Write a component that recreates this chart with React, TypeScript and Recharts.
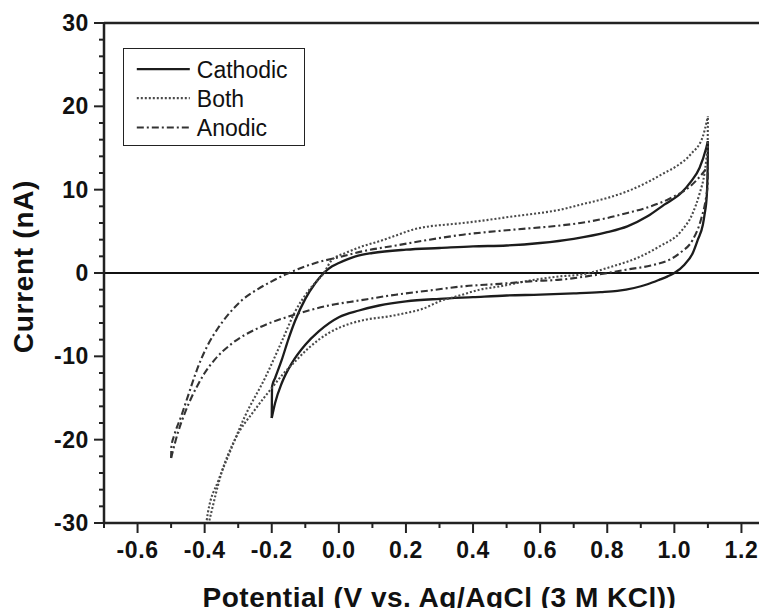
import React from 'react';
import { LineChart, Line, XAxis, YAxis, ReferenceLine, Legend } from 'recharts';

// ---- axis ticks ----
const xTicks = [-0.7, -0.6, -0.5, -0.4, -0.3, -0.2, -0.1, 0, 0.1, 0.2, 0.3, 0.4, 0.5, 0.6, 0.7, 0.8, 0.9, 1.0, 1.1, 1.2, 1.3];
const yTicks = [-30, -28, -26, -24, -22, -20, -18, -16, -14, -12, -10, -8, -6, -4, -2, 0, 2, 4, 6, 8, 10, 12, 14, 16, 18, 20, 22, 24, 26, 28, 30];
const seriesNames = ['Cathodic', 'Both', 'Anodic'];
const xTitle = 'Potential (V vs. Ag/AgCl (3 M KCl))';
const yTitle = 'Current (nA)';

// ---- Cathodic (solid) ----
const cathodicUpV = [-0.2, -0.199, -0.19, -0.17, -0.15, -0.13, -0.1, -0.07, -0.045, -0.02, 0.0, 0.05, 0.1, 0.2, 0.3, 0.4, 0.5, 0.6, 0.7, 0.8, 0.86, 0.92, 0.97, 1.02, 1.05, 1.075, 1.095, 1.1];
const cathodicUpI = [-17.4, -13.6, -12.6, -10.4, -7.9, -5.7, -3.1, -1.2, 0, 0.8, 1.2, 2.0, 2.4, 2.8, 3.0, 3.2, 3.3, 3.6, 4.1, 4.9, 5.6, 6.8, 8.2, 9.6, 11.0, 12.6, 15.0, 15.8];
const cathodicDownV = [-0.2, -0.19, -0.17, -0.14, -0.1, -0.06, 0.0, 0.06, 0.12, 0.2, 0.3, 0.4, 0.5, 0.6, 0.7, 0.78, 0.83, 0.88, 0.92, 0.956, 0.98, 1.0, 1.03, 1.055, 1.07, 1.085, 1.09, 1.097, 1.0995, 1.1];
const cathodicDownI = [-17.4, -15.6, -13.2, -10.8, -8.6, -7.0, -5.3, -4.5, -3.9, -3.4, -3.1, -2.9, -2.7, -2.6, -2.45, -2.3, -2.15, -1.8, -1.35, -0.8, -0.4, 0, 1.0, 2.4, 4.0, 5.8, 7.0, 9.5, 13.2, 15.8];

// ---- Both (dotted) ----
const bothUpV = [-0.405, -0.39, -0.36, -0.33, -0.28, -0.22, -0.17, -0.13, -0.09, -0.045, -0.02, 0.02, 0.07, 0.12, 0.17, 0.22, 0.27, 0.32, 0.37, 0.45, 0.52, 0.6, 0.66, 0.72, 0.8, 0.86, 0.92, 0.97, 1.006, 1.05, 1.085, 1.1];
const bothUpI = [-33, -28.7, -25, -22, -17.2, -12.6, -8.2, -4.6, -2.1, 0, 1.6, 2.4, 3.2, 3.8, 4.5, 5.2, 5.6, 5.8, 6.0, 6.4, 6.8, 7.2, 7.6, 8.2, 9.0, 9.8, 10.9, 12.0, 12.8, 14.3, 16.4, 18.8];
const bothDownV = [-0.405, -0.38, -0.35, -0.31, -0.25, -0.2, -0.17, -0.13, -0.09, -0.03, 0.04, 0.08, 0.15, 0.2, 0.25, 0.3, 0.36, 0.42, 0.48, 0.57, 0.66, 0.72, 0.816, 0.9, 0.956, 1.02, 1.055, 1.075, 1.09, 1.095, 1.099, 1.1];
const bothDownI = [-33, -28.7, -24, -20, -16.4, -13.8, -12.3, -10.6, -9.0, -7.2, -6.0, -5.6, -5.2, -4.8, -4.3, -3.4, -2.7, -2.0, -1.6, -0.9, -0.4, -0.2, 0.8, 2.0, 3.2, 5.0, 7.2, 9.5, 12.0, 13.5, 15.0, 18.8];

// ---- Anodic (dash-dot) ----
const anodicUpV = [-0.5, -0.499, -0.49, -0.47, -0.45, -0.43, -0.41, -0.39, -0.36, -0.33, -0.29, -0.24, -0.2, -0.16, -0.07, 0.0, 0.07, 0.17, 0.27, 0.37, 0.52, 0.66, 0.72, 0.8, 0.86, 0.93, 0.99, 1.05, 1.085, 1.1];
const anodicUpI = [-22.2, -20.8, -19.4, -17.2, -14.8, -12.4, -10.3, -8.6, -6.6, -5.0, -3.3, -1.9, -1.0, -0.2, 1.2, 1.9, 2.6, 3.3, 4.0, 4.6, 5.2, 5.7, 6.0, 6.6, 7.2, 8.0, 9.0, 10.5, 12.0, 12.8];
const anodicDownV = [-0.5, -0.48, -0.46, -0.44, -0.42, -0.4, -0.37, -0.32, -0.24, -0.14, -0.03, 0.06, 0.17, 0.27, 0.37, 0.48, 0.57, 0.66, 0.756, 0.856, 0.93, 0.986, 1.02, 1.055, 1.08, 1.095, 1.099, 1.1];
const anodicDownI = [-22.2, -19.2, -16.9, -15.0, -13.4, -12.0, -10.4, -8.5, -6.6, -5.1, -3.9, -3.3, -2.6, -2.1, -1.6, -1.3, -1.0, -0.8, -0.3, 0.4, 0.9, 1.6, 2.5, 4.0, 6.5, 9.2, 10.5, 12.8];

const toPts = (vs: number[], is: number[]) => vs.map((v, k) => ({ v, i: is[k] }));

const FONT = "'Liberation Sans', Arial, Helvetica, sans-serif";
const AXIS = '#222';

const styles = {
  Cathodic: { stroke: '#1c1c1c', strokeWidth: 2.3, dash: undefined as string | undefined },
  Both: { stroke: '#4a4a4a', strokeWidth: 2.1, dash: '2 2' },
  Anodic: { stroke: '#333', strokeWidth: 2.1, dash: '7 3 2 3' },
};

const branches = [
  { name: 'Cathodic', data: toPts(cathodicUpV, cathodicUpI) },
  { name: 'Cathodic', data: toPts(cathodicDownV, cathodicDownI) },
  { name: 'Both', data: toPts(bothUpV, bothUpI) },
  { name: 'Both', data: toPts(bothDownV, bothDownI) },
  { name: 'Anodic', data: toPts(anodicUpV, anodicUpI) },
  { name: 'Anodic', data: toPts(anodicDownV, anodicDownI) },
];

const isMajorX = (v: number) => Math.abs(Math.round(v * 10)) % 2 === 0;
const isMajorY = (v: number) => Math.abs(Math.round(v)) % 10 === 0;

const BottomTick = (p: any) => {
  const { x, y, payload } = p;
  const v = payload.value as number;
  const major = isMajorX(v);
  return (
    <g>
      <line x1={x} x2={x} y1={y} y2={y + (major ? 10 : 5)} stroke={AXIS} strokeWidth={2} />
      {major && (
        <text x={x} y={y + 35} textAnchor="middle" fontFamily={FONT} fontWeight="bold" fontSize={23} letterSpacing={0.6} fill="#111">
          {v.toFixed(1)}
        </text>
      )}
    </g>
  );
};

const TopTick = (p: any) => {
  const { x, y, payload } = p;
  const major = isMajorX(payload.value);
  return <line x1={x} x2={x} y1={y} y2={y + (major ? 10 : 5)} stroke={AXIS} strokeWidth={2} />;
};

const LeftTick = (p: any) => {
  const { x, y, payload } = p;
  const v = payload.value as number;
  const major = isMajorY(v);
  return (
    <g>
      <line x1={x - (major ? 10 : 5)} x2={x} y1={y} y2={y} stroke={AXIS} strokeWidth={2} />
      {major && (
        <text x={x - 15} y={y + 8} textAnchor="end" fontFamily={FONT} fontWeight="bold" fontSize={23} letterSpacing={0.6} fill="#111">
          {String(v)}
        </text>
      )}
    </g>
  );
};

const RightTick = (p: any) => {
  const { x, y, payload } = p;
  const major = isMajorY(payload.value);
  return <line x1={x - (major ? 10 : 5)} x2={x} y1={y} y2={y} stroke={AXIS} strokeWidth={2} />;
};

const XTitle = (p: any) => {
  const vb = p.viewBox || { x: 96, y: 515, width: 671, height: 93 };
  return (
    <text x={vb.x + vb.width / 2} y={vb.y + 84} textAnchor="middle" fontFamily={FONT} fontWeight="bold" fontSize={28} letterSpacing={0.5} fill="#111">
      {xTitle}
    </text>
  );
};

const YTitle = (p: any) => {
  const vb = p.viewBox || { x: 0, y: 15, width: 96, height: 500 };
  const cx = vb.x + 25;
  const cy = vb.y + vb.height / 2 - 6.5;
  return (
    <text x={cx} y={cy} transform={`rotate(-90, ${cx}, ${cy})`} textAnchor="middle" fontFamily={FONT} fontWeight="bold" fontSize={28} letterSpacing={0.7} fill="#111">
      {yTitle}
    </text>
  );
};

const LegendBox = () => {
  const rows = [20.1, 49.1, 78.5];
  return (
    <div style={{ width: 182, height: 98, border: `1.5px solid ${AXIS}`, boxSizing: 'border-box', background: '#fff' }}>
      <svg width={179} height={95} style={{ display: 'block' }}>
        {seriesNames.map((n, k) => {
          const s = (styles as any)[n];
          return (
            <g key={n}>
              <line x1={12.8} x2={65.8} y1={rows[k]} y2={rows[k]} stroke={s.stroke} strokeWidth={s.strokeWidth} strokeDasharray={s.dash} />
              <text x={72.8} y={rows[k] + 8.8} fontFamily={FONT} fontSize={23} fill="#111">{n}</text>
            </g>
          );
        })}
      </svg>
    </div>
  );
};

export default function App() {
  return (
    <div style={{ width: 759, height: 608, overflow: 'hidden', marginBottom: -8, background: '#fff' }}>
      <LineChart width={775} height={608} margin={{ top: 0, right: 0, bottom: 0, left: 0 }}>
        <XAxis
          xAxisId="x"
          type="number"
          dataKey="v"
          domain={[-0.7, 1.3]}
          allowDataOverflow
          ticks={xTicks}
          interval={0}
          tick={BottomTick}
          tickLine={false}
          tickSize={0}
          tickMargin={0}
          height={93}
          axisLine={{ stroke: AXIS, strokeWidth: 2.5 }}
          label={<XTitle />}
        />
        <XAxis
          xAxisId="xt"
          orientation="top"
          type="number"
          domain={[-0.7, 1.3]}
          allowDataOverflow
          ticks={xTicks}
          interval={0}
          tick={TopTick}
          tickLine={false}
          tickSize={0}
          tickMargin={0}
          height={15}
          axisLine={{ stroke: AXIS, strokeWidth: 2.5 }}
        />
        <YAxis
          yAxisId="y"
          type="number"
          domain={[-30, 30]}
          allowDataOverflow
          ticks={yTicks}
          interval={0}
          tick={LeftTick}
          tickLine={false}
          tickSize={0}
          tickMargin={0}
          width={96}
          axisLine={{ stroke: AXIS, strokeWidth: 2.5 }}
          label={<YTitle />}
        />
        <YAxis
          yAxisId="yr"
          orientation="right"
          type="number"
          domain={[-30, 30]}
          allowDataOverflow
          ticks={yTicks}
          interval={0}
          tick={RightTick}
          tickLine={false}
          tickSize={0}
          tickMargin={0}
          width={8}
          axisLine={{ stroke: AXIS, strokeWidth: 2.5 }}
        />
        <ReferenceLine xAxisId="x" yAxisId="y" y={0} stroke="#111" strokeWidth={2.2} />
        {branches.map((b, k) => {
          const s = (styles as any)[b.name];
          return (
            <Line
              key={k}
              xAxisId="x"
              yAxisId="y"
              data={b.data}
              dataKey="i"
              name={b.name}
              type="monotone"
              stroke={s.stroke}
              strokeWidth={s.strokeWidth}
              strokeDasharray={s.dash}
              dot={false}
              activeDot={false}
              legendType="none"
              isAnimationActive={false}
            />
          );
        })}
        <Legend
          layout="horizontal"
          verticalAlign="middle"
          align="center"
          content={() => <LegendBox />}
          wrapperStyle={{ position: 'absolute', left: 114.7, top: 39.7, width: 182, height: 98 }}
        />
      </LineChart>
    </div>
  );
}
